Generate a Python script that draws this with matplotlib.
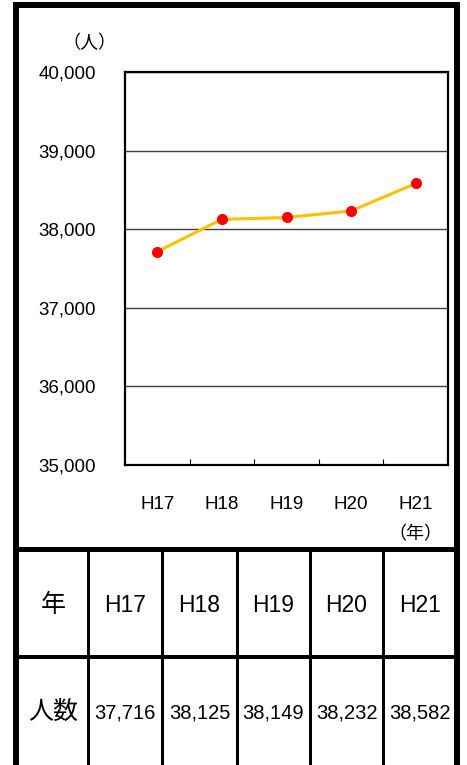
import matplotlib
matplotlib.use("Agg")
import matplotlib.pyplot as plt
from matplotlib.ticker import FixedLocator, FuncFormatter

plt.rcParams['font.family'] = ['Liberation Sans', 'Noto Sans CJK JP']

# data
years = ["H17", "H18", "H19", "H20", "H21"]
people = [37716, 38125, 38149, 38232, 38582]
y_ticks = [35000, 36000, 37000, 38000, 39000, 40000]

W, H = 467, 765
fig = plt.figure(figsize=(W / 100, H / 100), dpi=100)

# background axes in pixel coordinates for border and table
bg = fig.add_axes([0, 0, 1, 1])
bg.set_xlim(0, W)
bg.set_ylim(H, 0)
bg.axis("off")

px = 72 / 100  # points per pixel

# outer frame (open at bottom)
bg.plot([16, 16], [4.5, H + 5], color="k", lw=6 * px, solid_capstyle="projecting")
bg.plot([457, 457], [4.5, H + 5], color="k", lw=6 * px, solid_capstyle="projecting")
bg.plot([16, 457], [4.5, 4.5], color="k", lw=6 * px, solid_capstyle="projecting")

# table lines
col_edges = [16, 88, 162, 237, 310, 383, 457]
bg.plot([16, 457], [548.5, 548.5], color="k", lw=5 * px)
bg.plot([16, 457], [657, 657], color="k", lw=4 * px)
for x in col_edges[1:-1]:
    bg.plot([x, x], [548.5, H + 5], color="k", lw=3 * px)

row1_y, row2_y = 605, 712
bg.text((col_edges[0] + col_edges[1]) / 2 + 1, row1_y, "年", fontsize=18,
        ha="center", va="center")
bg.text((col_edges[0] + col_edges[1]) / 2 + 1, row2_y, "人数", fontsize=18,
        ha="center", va="center")
for i, (yr, v) in enumerate(zip(years, people)):
    cx = (col_edges[i + 1] + col_edges[i + 2]) / 2
    bg.text(cx, row1_y, yr, fontsize=16.5, ha="center", va="center")
    bg.text(cx, row2_y + 1, f"{v:,}", fontsize=14.5,
            ha="center", va="center")

# chart
ax = fig.add_axes([125 / W, 1 - 465 / H, 323 / W, 393 / H])
xs = list(range(len(years)))
ax.plot(xs, people, color="#FFC000", lw=2.2, zorder=3,
        marker="o", markersize=7, markerfacecolor="#FF0000",
        markeredgecolor="#FF0000")
ax.set_xlim(-0.5, len(years) - 0.5)
ax.set_ylim(y_ticks[0], y_ticks[-1])
ax.set_yticks(y_ticks)
ax.yaxis.set_major_formatter(FuncFormatter(lambda v, p: f"{int(v):,}"))
ax.grid(axis="y", color="#404040", lw=1)
ax.set_axisbelow(True)
ax.set_xticks(xs)
ax.set_xticklabels(years)
ax.xaxis.set_minor_locator(FixedLocator([i + 0.5 for i in xs[:-1]]))
ax.tick_params(axis="x", which="major", length=0, pad=22, labelsize=13.5)
ax.tick_params(axis="x", which="minor", direction="in", length=4, width=0.8)
ax.tick_params(axis="y", length=0, pad=21, labelsize=13.5)
for s in ax.spines.values():
    s.set_linewidth(1.6)
    s.set_color("k")

bg.text(89, 43, "（人）", fontsize=13, ha="center", va="center")
bg.text(415, 535, "（年）", fontsize=13, ha="center", va="center")

fig.savefig("out.png", dpi=100)
